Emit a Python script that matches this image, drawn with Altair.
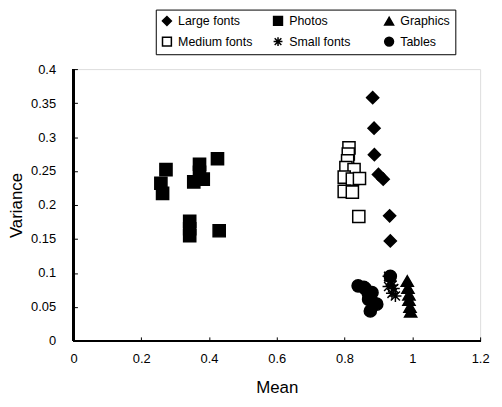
import altair as alt
import pandas as pd

# ---- data ----
categories = ["Large fonts", "Photos", "Graphics", "Medium fonts", "Small fonts", "Tables"]

large_x = [0.883, 0.887, 0.888, 0.900, 0.914, 0.933, 0.935]
large_y = [0.358, 0.313, 0.274, 0.245, 0.238, 0.184, 0.147]

photos_x = [0.258, 0.263, 0.273, 0.343, 0.343, 0.343, 0.355, 0.372, 0.372, 0.383, 0.425, 0.430]
photos_y = [0.232, 0.217, 0.252, 0.176, 0.165, 0.155, 0.234, 0.260, 0.248, 0.238, 0.268, 0.162]

graphics_x = [0.985, 0.987, 0.990, 0.990, 0.993, 0.995]
graphics_y = [0.088, 0.078, 0.068, 0.060, 0.050, 0.043]

medium_x = [0.813, 0.811, 0.809, 0.804, 0.828, 0.799, 0.823, 0.844, 0.799, 0.823, 0.842]
medium_y = [0.284, 0.275, 0.265, 0.255, 0.252, 0.241, 0.238, 0.239, 0.220, 0.219, 0.183]

small_x = [0.930, 0.935, 0.940, 0.945, 0.940, 0.950, 0.930]
small_y = [0.095, 0.088, 0.082, 0.077, 0.070, 0.066, 0.080]

tables_x = [0.840, 0.857, 0.861, 0.870, 0.881, 0.871, 0.885, 0.895, 0.876, 0.935]
tables_y = [0.081, 0.079, 0.077, 0.070, 0.071, 0.061, 0.056, 0.054, 0.044, 0.095]

series = {
    "Large fonts": (large_x, large_y),
    "Photos": (photos_x, photos_y),
    "Graphics": (graphics_x, graphics_y),
    "Medium fonts": (medium_x, medium_y),
    "Small fonts": (small_x, small_y),
    "Tables": (tables_x, tables_y),
}
rows = []
for name, (xs, ys) in series.items():
    for a, b in zip(xs, ys):
        rows.append({"Type": name, "Mean": a, "Variance": b})
df = pd.DataFrame(rows)

asterisk = "M-1,0L1,0M0,-1L0,1M-0.75,-0.75L0.75,0.75M-0.75,0.75L0.75,-0.75"
shapes = ["diamond", "square", "triangle-up", "square", asterisk, "circle"]
fills = ["black", "black", "black", "white", "black", "black"]
strokes = ["black"] * 6

FONT = "Liberation Sans"

legend = alt.Legend(
    title=None, orient="none", legendX=83, legendY=-60, columns=3,
    direction="horizontal", strokeColor="black", fillColor="white",
    padding=5, columnPadding=17, rowPadding=5, symbolSize=80, gridAlign="all",
    symbolStrokeColor="black", symbolStrokeWidth=1.5,
    labelFont=FONT, labelFontSize=12.5, labelColor="black", labelOffset=5,
)

xscale = alt.Scale(domain=[0, 1.2], nice=False, zero=False)
yscale = alt.Scale(domain=[0, 0.4], nice=False, zero=False)

points = alt.Chart(df).mark_point(filled=True, strokeWidth=1.5,
                                  opacity=1, size=150).encode(
    x=alt.X("Mean:Q", scale=xscale,
            axis=alt.Axis(tickCount=6, format=".1~f", title="Mean", offset=-4,
                          domain=False, tickSize=4, tickColor="black", tickWidth=1,
                          labelOverlap=False, labelFlush=False,
                          labelPadding=12, labelFont=FONT, labelFontSize=13, labelColor="black",
                          titleFont=FONT, titleFontSize=17, titleFontWeight="normal",
                          titleColor="black", titlePadding=14, grid=False)),
    y=alt.Y("Variance:Q", scale=yscale,
            axis=alt.Axis(tickCount=8, format=".2~f", title="Variance", offset=-4,
                          domain=False, tickSize=4, tickColor="black", tickWidth=1,
                          labelOverlap=False, labelFlush=False,
                          labelPadding=18, labelFont=FONT, labelFontSize=13, labelColor="black",
                          titleFont=FONT, titleFontSize=17, titleFontWeight="normal",
                          titleColor="black", titlePadding=5, grid=False)),
    shape=alt.Shape("Type:N", scale=alt.Scale(domain=categories, range=shapes), legend=legend),
    fill=alt.Fill("Type:N", scale=alt.Scale(domain=categories, range=fills), legend=legend),
    stroke=alt.Stroke("Type:N", scale=alt.Scale(domain=categories, range=strokes), legend=legend),
)

frame_left = alt.Chart(df).mark_rule(color="black", strokeWidth=2).encode(
    x=alt.datum(0, scale=xscale))
frame_bottom = alt.Chart(df).mark_rule(color="black", strokeWidth=2).encode(
    y=alt.datum(0, scale=yscale))

chart = alt.layer(points, frame_left, frame_bottom).properties(
    width=410, height=274,
    autosize=alt.AutoSizeParams(type="none"),
    padding={"left": 66, "top": 60, "right": 14, "bottom": 57},
).configure_view(stroke="black", strokeWidth=1).configure(background="white")

chart.save("out.html", embed_options={"renderer": "svg", "actions": False})
